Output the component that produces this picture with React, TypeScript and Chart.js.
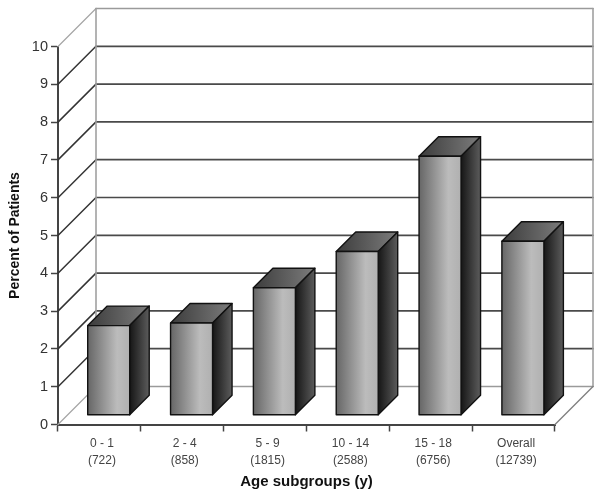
import React, { useEffect, useRef } from "react";
import { Chart, registerables } from "chart.js";

Chart.register(...registerables);

const ageGroups = ["0 - 1", "2 - 4", "5 - 9", "10 - 14", "15 - 18", "Overall"];
const sampleSizes = ["(722)", "(858)", "(1815)", "(2588)", "(6756)", "(12739)"];
const percentOfPatients = [2.37, 2.44, 3.37, 4.33, 6.85, 4.6];
const yMin = 0;
const yMax = 10;
const yStep = 1;
const FONT = '"Liberation Sans", Arial, sans-serif';

const WALL_DEPTH = 38;
const BAR_FRONT = 9.3;
const BAR_DEPTH = 19.5;

const wall3d = {
  id: "wall3d",
  beforeDatasetsDraw(chart: any) {
    const { ctx, scales } = chart;
    const y = scales.y;
    const left = scales.x.left;
    const right = scales.x.right;
    const d = WALL_DEPTH;
    ctx.save();
    ctx.lineCap = "round";
    const seg = (x1: number, y1: number, x2: number, y2: number, c: string, w: number) => {
      ctx.beginPath();
      ctx.moveTo(x1, y1);
      ctx.lineTo(x2, y2);
      ctx.strokeStyle = c;
      ctx.lineWidth = w;
      ctx.stroke();
    };
    const p0 = y.getPixelForValue(yMin);
    const pN = y.getPixelForValue(yMax);
    for (let v = yMin; v <= yMax; v += yStep) {
      const py = y.getPixelForValue(v);
      const edge = v === yMin || v === yMax;
      const col = edge ? "#9a9a9a" : "#4a4a4a";
      seg(left, py, left + d, py - d, edge ? "#a5a5a5" : "#333333", edge ? 1.2 : 1.5);
      seg(left + d, py - d, right + d, py - d, col, edge ? 1.6 : 1.7);
    }
    seg(left + d, pN - d, left + d, p0 - d, "#a0a0a0", 1.6);
    seg(right + d, pN - d, right + d, p0 - d, "#a0a0a0", 1.6);
    seg(right, p0, right + d, p0 - d, "#808080", 1.4);
    ctx.restore();
  },
};

const bars3d = {
  id: "bars3d",
  beforeDatasetDraw(chart: any, args: any) {
    const { ctx } = chart;
    const meta = chart.getDatasetMeta(args.index);
    ctx.save();
    ctx.lineJoin = "round";
    ctx.lineWidth = 1.4;
    ctx.strokeStyle = "#111111";
    meta.data.forEach((el: any) => {
      const x0 = el.x - el.width / 2 + BAR_FRONT;
      const x1 = el.x + el.width / 2 + BAR_FRONT;
      const top = el.y - BAR_FRONT;
      const bot = el.base - BAR_FRONT;
      const dx = BAR_DEPTH;

      const face = (pts: number[][], fill: CanvasGradient) => {
        ctx.beginPath();
        pts.forEach((p, i) => (i ? ctx.lineTo(p[0], p[1]) : ctx.moveTo(p[0], p[1])));
        ctx.closePath();
        ctx.fillStyle = fill;
        ctx.fill();
        ctx.stroke();
      };

      const front = ctx.createLinearGradient(x0, 0, x1, 0);
      front.addColorStop(0, "#666666");
      front.addColorStop(0.7, "#bcbcbc");
      front.addColorStop(1, "#b0b0b0");
      const side = ctx.createLinearGradient(x1, 0, x1 + dx, 0);
      side.addColorStop(0, "#161616");
      side.addColorStop(1, "#5c5c5c");
      const cap = ctx.createLinearGradient(x0, 0, x1 + dx, 0);
      cap.addColorStop(0, "#3c3c3c");
      cap.addColorStop(1, "#7c7c7c");

      face([[x0, top], [x0 + dx, top - dx], [x1 + dx, top - dx], [x1, top]], cap);
      face([[x1, top], [x1 + dx, top - dx], [x1 + dx, bot - dx], [x1, bot]], side);
      face([[x0, top], [x1, top], [x1, bot], [x0, bot]], front);
    });
    ctx.restore();
    return false;
  },
};

export default function App() {
  const ref = useRef<HTMLCanvasElement | null>(null);

  useEffect(() => {
    document.body.style.margin = "0";
    const chart = new Chart(ref.current as HTMLCanvasElement, {
      type: "bar",
      data: {
        labels: ageGroups.map((g, i) => [g, sampleSizes[i]]),
        datasets: [
          {
            data: percentOfPatients,
            backgroundColor: "#a0a0a0",
            barPercentage: 0.507,
            categoryPercentage: 1,
          },
        ],
      },
      plugins: [wall3d, bars3d],
      options: {
        responsive: false,
        animation: false,
        layout: { padding: { top: 46.5, right: 45, left: 0, bottom: 0 } },
        plugins: { legend: { display: false }, tooltip: { enabled: false } },
        scales: {
          x: {
            afterFit: (s: any) => {
              s.height = 74.5;
            },
            border: { display: true, color: "#444444", width: 2 },
            grid: { drawOnChartArea: false, drawTicks: true, tickLength: 7, tickColor: "#444444", tickWidth: 1.5, offset: true },
            ticks: {
              color: "#444444",
              padding: 4,
              labelOffset: 2.5,
              maxRotation: 0,
              autoSkip: false,
              font: { family: FONT, size: 12, lineHeight: 1.42 },
            },
            title: {
              display: true,
              text: "Age subgroups (y)",
              color: "#111111",
              font: { family: FONT, size: 15, weight: "bold" },
              padding: { top: 0, bottom: 8 },
            },
          },
          y: {
            min: yMin,
            max: yMax,
            afterFit: (s: any) => {
              s.width = 58;
            },
            border: { display: true, color: "#444444", width: 2 },
            grid: { drawOnChartArea: false, drawTicks: true, tickLength: 7, tickColor: "#444444", tickWidth: 1.5 },
            ticks: {
              stepSize: yStep,
              color: "#333333",
              padding: 3,
              font: { family: FONT, size: 14.5 },
            },
            title: {
              display: true,
              text: "Percent of Patients",
              color: "#111111",
              font: { family: FONT, size: 14, weight: "bold" },
              padding: { top: 7, bottom: 0 },
            },
          },
        },
      },
    } as any);
    return () => chart.destroy();
  }, []);

  return (
    <canvas
      ref={ref}
      width={600}
      height={499}
      style={{ display: "block", width: 600, height: 499, filter: "blur(0.4px)" }}
    />
  );
}
